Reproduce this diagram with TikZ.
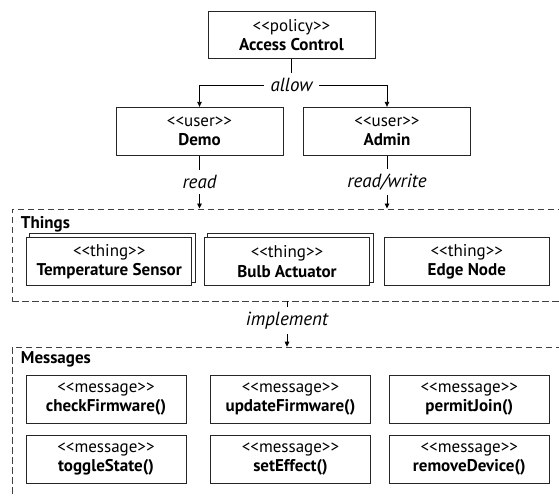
\documentclass[tikz,border=0pt]{standalone}
\usepackage{fontspec}
\setmainfont{PT Sans}
\usetikzlibrary{arrows.meta,backgrounds}
\newcommand\stlt{<\kern0pt<}
\newcommand\stgt{>\kern0pt>}
\newcommand\ster[1]{\stlt#1\stgt}
\begin{document}
\begin{tikzpicture}[x=1pt,y=-1pt,
  box/.style={draw=black!85, line width=0.9pt, fill=white, minimum width=167pt,
    minimum height=48pt, inner sep=0pt, align=center,
    font=\fontsize{17}{19.5}\selectfont},
  thingbox/.style={box, minimum width=165pt},
  shadowbox/.style={draw=black!85, line width=0.9pt, fill=white},
  msgbox/.style={box, minimum width=160pt},
  group/.style={draw=black!75, dash pattern=on 6.5pt off 3.5pt, line width=0.9pt,
    inner sep=0pt, anchor=north west},
  grouplbl/.style={anchor=base west, inner sep=0pt,
    font=\fontsize{17}{19.5}\selectfont\bfseries},
  lbl/.style={fill=white, inner xsep=7pt, inner ysep=5pt,
    font=\fontsize{19}{22}\selectfont\itshape},
  plain/.style={line width=0.9pt, draw=black},
  conn/.style={plain, -{Triangle[length=5pt,width=4.5pt]}}
]
\path[use as bounding box] (0,0) rectangle (559,497);
\clip (0,0) rectangle (559,497);

% top
\node[box, minimum height=46.6pt] (ac) at (291.5,35) {\ster{policy}\\\textbf{Access Control}};
\node[box] (demo) at (199.5,131.3) {\ster{user}\\\textbf{Demo}};
\node[box] (admin) at (387,131.3) {\ster{user}\\\textbf{Admin}};
\coordinate (split) at (291.5,85);
\draw[plain] (ac.south) -- (split);
\draw[conn] (split) -| (demo.north);
\draw[conn] (split) -| (admin.north);
\node[lbl] (allowlbl) at (split) {allow};

% things
\node[group, minimum width=620pt, minimum height=92pt] (things) at (11.7,208.5) {};
\node[grouplbl] (thingslbl) at (20.7,228.5) {Things};
\node[thingbox] (temp) at (109.2,261.6) {\ster{thing}\\\textbf{Temperature Sensor}};
\node[thingbox] (bulb) at (287,261.6) {\ster{thing}\\\textbf{Bulb Actuator}};
\node[thingbox] (edge) at (466.8,261.6) {\ster{thing}\\\textbf{Edge Node}};
\begin{scope}[on background layer]
  \draw[shadowbox] ([shift={(3.5,-4)}]temp.south west) rectangle ([shift={(3.5,-4)}]temp.north east);
  \draw[shadowbox] ([shift={(3.5,-4)}]bulb.south west) rectangle ([shift={(3.5,-4)}]bulb.north east);
\end{scope}

\draw[conn] (demo.south) -- (demo.south |- things.north) node[lbl, midway] (readlbl) {read};
\draw[conn] (admin.south) -- (admin.south |- things.north) node[lbl, midway] (rwlbl) {read/write};

% messages
\node[group, minimum width=620pt, minimum height=200pt] (messages) at (11.7,346.7) {};
\node[grouplbl] (msglbl) at (20.7,363.5) {Messages};
\draw[conn] (things.south west -| bulb.center) -- (messages.north west -| bulb.center)
  node[lbl, pos=0.42] (impllbl) {implement};

\node[msgbox] (m1) at (106,399) {\ster{message}\\\textbf{checkFirmware()}};
\node[msgbox] (m2) at (290.5,399) {\ster{message}\\\textbf{updateFirmware()}};
\node[msgbox] (m3) at (469.3,399) {\ster{message}\\\textbf{permitJoin()}};
\node[msgbox] (m4) at (106,459) {\ster{message}\\\textbf{toggleState()}};
\node[msgbox] (m5) at (290.5,459) {\ster{message}\\\textbf{setEffect()}};
\node[msgbox] (m6) at (469.3,459) {\ster{message}\\\textbf{removeDevice()}};
\end{tikzpicture}
\end{document}
